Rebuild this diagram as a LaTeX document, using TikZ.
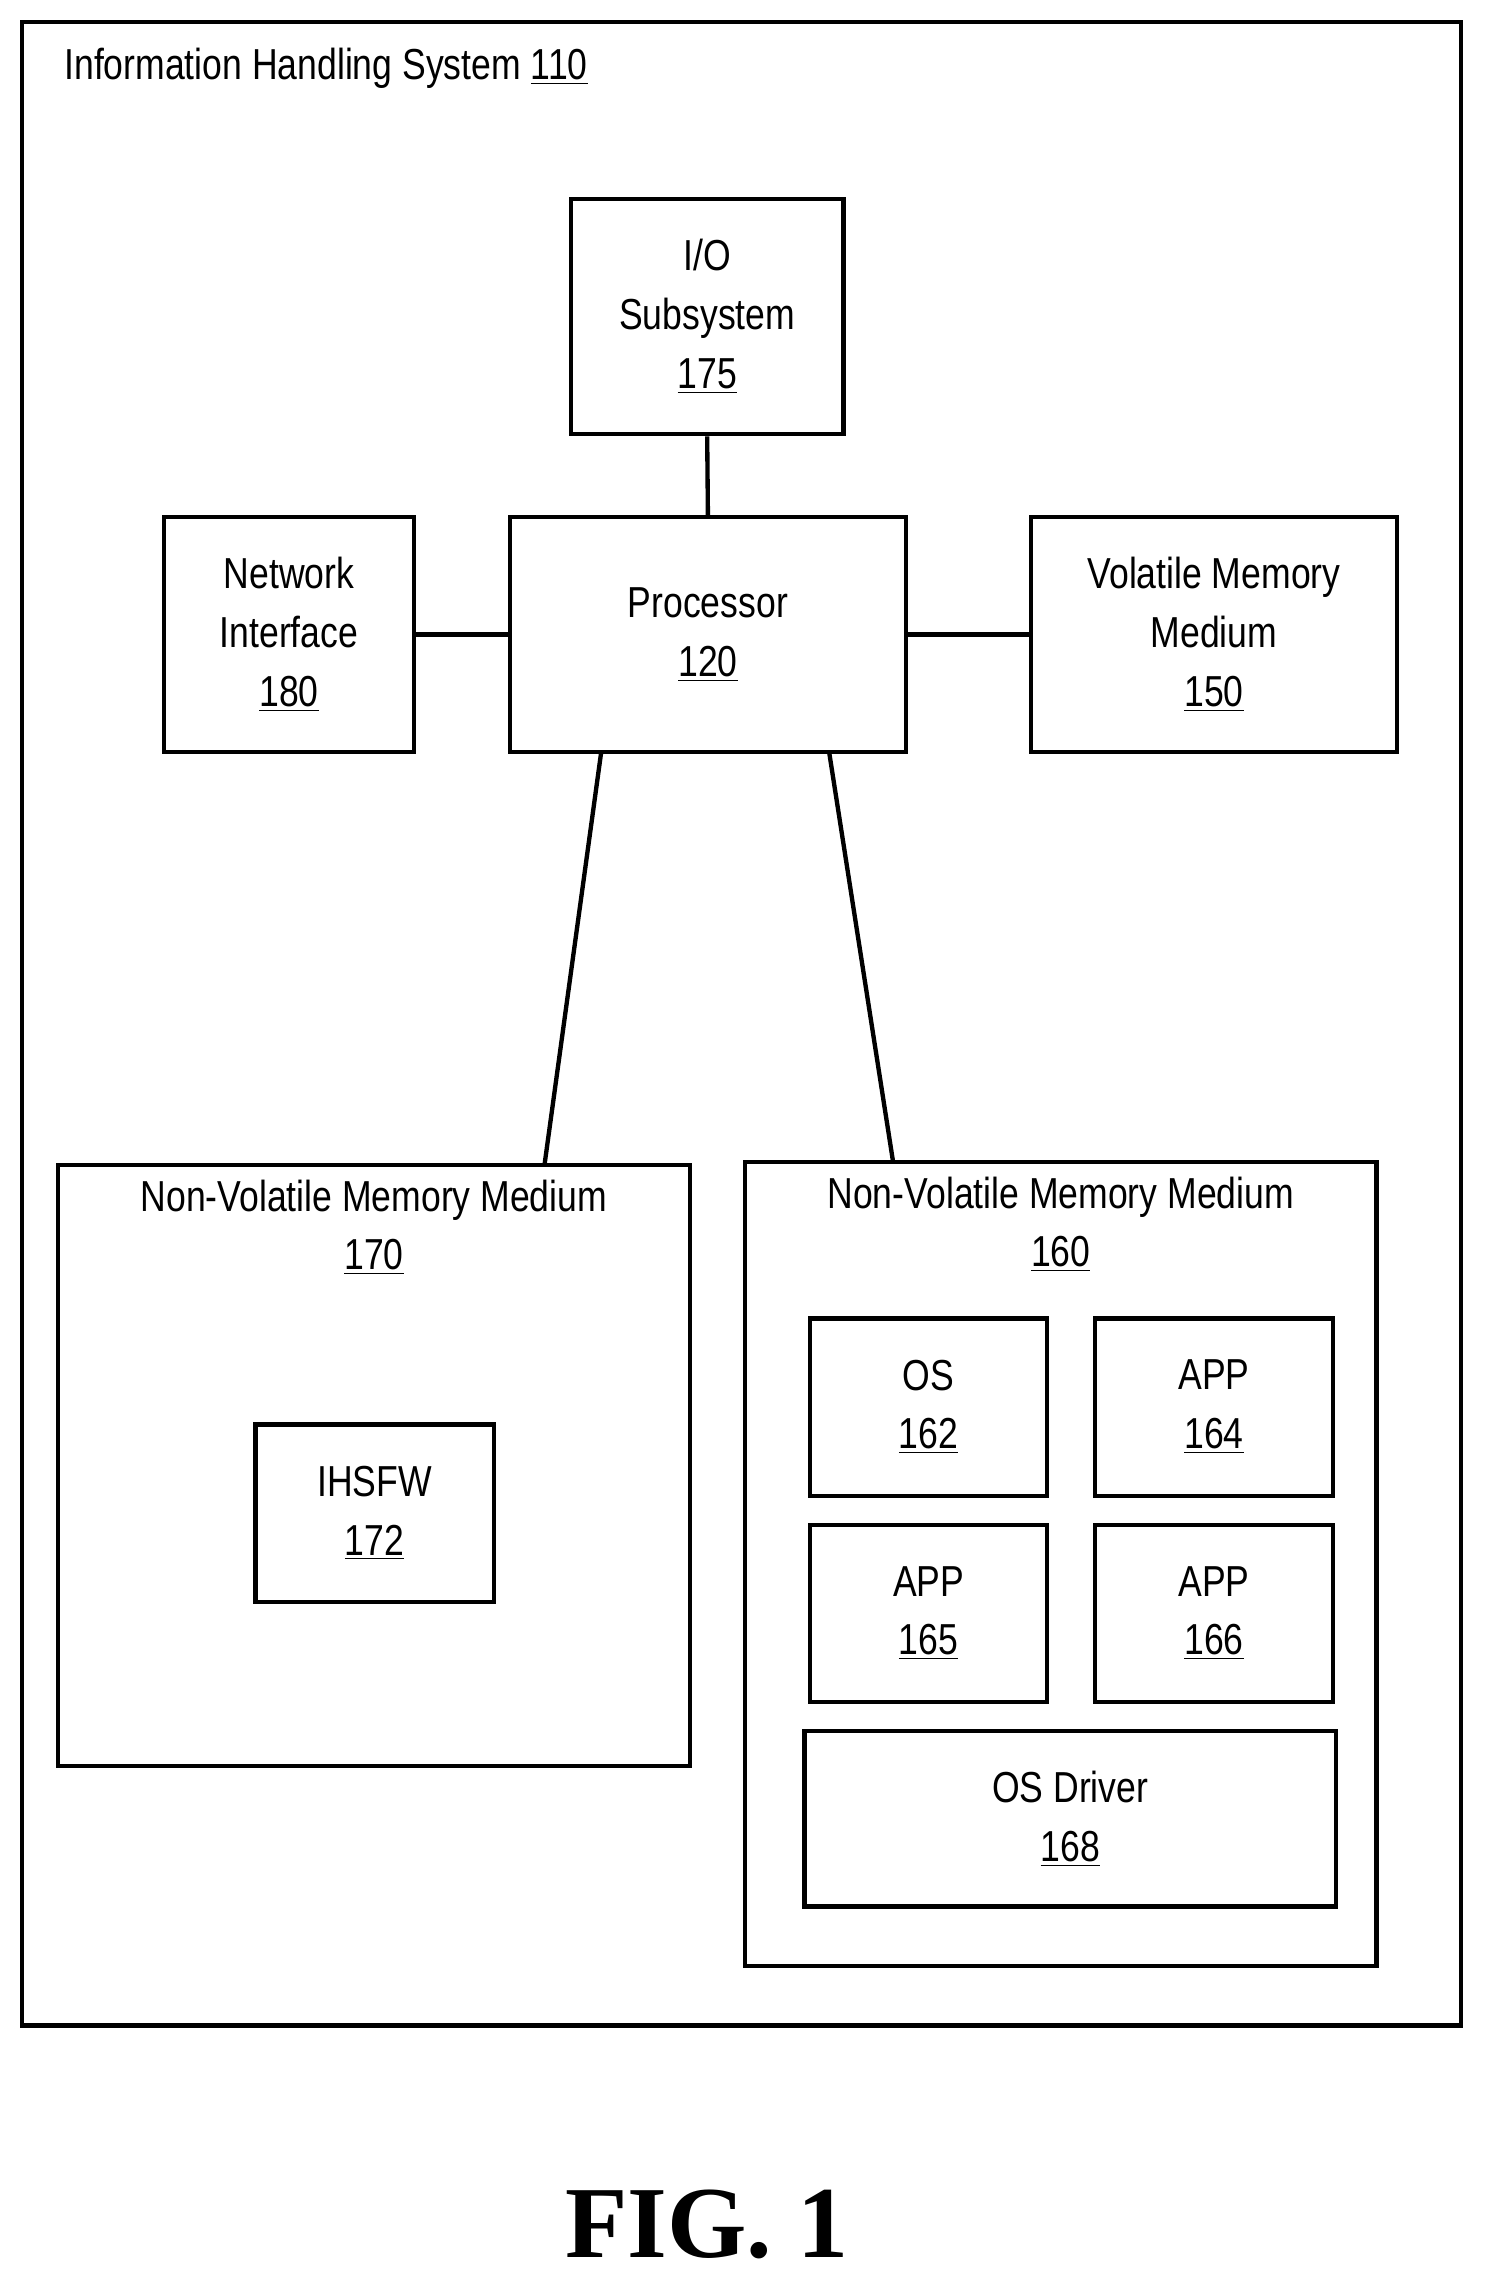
\documentclass[tikz,border=0pt]{standalone}
\usepackage{fontspec}
\setmainfont{Liberation Sans}[FakeStretch=0.82]
\newfontfamily\figfont{Liberation Serif}
\begin{document}
\begin{tikzpicture}[x=0.02cm,y=-0.02cm,
  box/.style={draw,line width=1.7pt,inner sep=0pt,align=center,font=\fontsize{17}{23}\selectfont},
  txt/.style={inner sep=0pt,align=center,font=\fontsize{17}{23}\selectfont},
  ln/.style={line width=1.7pt}]
\useasboundingbox (0,0) rectangle (1024,1571.5);
\node[box,minimum width=19.82cm,minimum height=27.6cm] (ihs) at (510.5,705) {};
\node[txt,anchor=west] (ihst) at (44,47) {Information Handling System \underline{110}};
\node[box,minimum width=3.76cm,minimum height=3.24cm] (io) at (487,218) {I/O\\Subsystem\\\underline{175}};
\node[box,minimum width=5.46cm,minimum height=3.24cm] (proc) at (487.5,437) {Processor\\\underline{120}};
\node[box,minimum width=3.44cm,minimum height=3.24cm] (net) at (199,437) {Network\\Interface\\\underline{180}};
\node[box,minimum width=5.04cm,minimum height=3.24cm] (vol) at (836,437) {Volatile Memory\\Medium\\\underline{150}};
\node[box,minimum width=8.7cm,minimum height=8.28cm] (nv170) at (257.5,1009) {};
\node[txt,anchor=north] (nv170t) at (257.5,812) {Non-Volatile Memory Medium\\\underline{170}};
\node[box,minimum width=3.28cm,minimum height=2.44cm] (fw) at (258,1042) {IHSFW\\\underline{172}};
\node[box,minimum width=8.7cm,minimum height=11.08cm] (nv160) at (730.5,1077) {};
\node[txt,anchor=north] (nv160t) at (730.5,810) {Non-Volatile Memory Medium\\\underline{160}};
\node[box,minimum width=3.26cm,minimum height=2.44cm] (os) at (639.5,969) {OS\\\underline{162}};
\node[box,minimum width=3.28cm,minimum height=2.44cm] (a164) at (836,969) {APP\\\underline{164}};
\node[box,minimum width=3.26cm,minimum height=2.44cm] (a165) at (639.5,1111) {APP\\\underline{165}};
\node[box,minimum width=3.28cm,minimum height=2.44cm] (a166) at (836,1111) {APP\\\underline{166}};
\node[box,minimum width=7.32cm,minimum height=2.42cm] (drv) at (737,1252.5) {OS Driver\\\underline{168}};
\node[inner sep=0pt,font=\figfont\bfseries\fontsize{40}{44}\selectfont] (fig) at (487,1532) {FIG. 1};
\draw[ln] (io.south) -- (proc.north);
\draw[ln] (net.east) -- (proc.west);
\draw[ln] (proc.east) -- (vol.west);
\coordinate (p1) at (414,518); \coordinate (m1) at (375,802);
\coordinate (p2) at (571,518); \coordinate (m2) at (615,800);
\draw[ln] (p1) -- (m1);
\draw[ln] (p2) -- (m2);
\end{tikzpicture}
\end{document}
